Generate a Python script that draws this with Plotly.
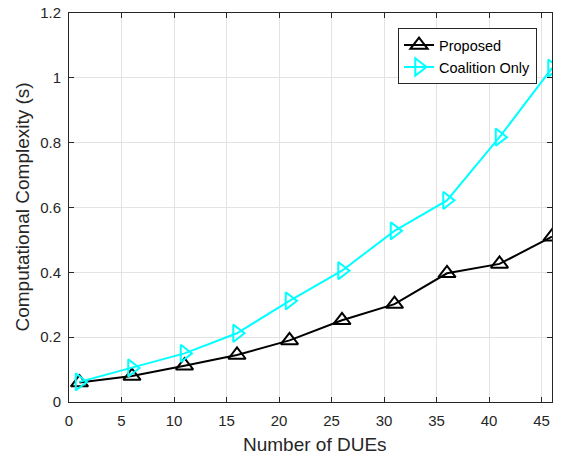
import plotly.graph_objects as go

# Number of DUEs on the x axis
num_dues = [1, 6, 11, 16, 21, 26, 31, 36, 41, 46]

# Running time in seconds for each scheme
proposed = [0.060, 0.080, 0.112, 0.145, 0.190, 0.252, 0.302, 0.397, 0.426, 0.510]
coalition_only = [0.062, 0.105, 0.150, 0.212, 0.312, 0.405, 0.528, 0.622, 0.817, 1.030]

x_ticks = [0, 5, 10, 15, 20, 25, 30, 35, 40, 45]
y_ticks = [0, 0.2, 0.4, 0.6, 0.8, 1.0, 1.2]
y_tick_text = ["0", "0.2", "0.4", "0.6", "0.8", "1", "1.2"]

FONT = "Liberation Sans"
TEXT_COLOR = "#262626"

fig = go.Figure()
fig.add_trace(go.Scatter(
    x=num_dues, y=proposed, name="Proposed", mode="lines+markers",
    line=dict(color="black", width=2),
    marker=dict(symbol="triangle-up-open", size=15, color="black",
                line=dict(width=2, color="black")),
))
fig.add_trace(go.Scatter(
    x=num_dues, y=coalition_only, name="Coalition Only", mode="lines+markers",
    line=dict(color="#00FFFF", width=2),
    marker=dict(symbol="triangle-right-open", size=15, color="#00FFFF",
                line=dict(width=2, color="#00FFFF")),
))

axis_common = dict(
    showline=True, linecolor=TEXT_COLOR, linewidth=1, mirror="allticks",
    ticks="inside", ticklen=5, tickcolor=TEXT_COLOR,
    showgrid=True, gridcolor="#e3e3e3", gridwidth=1,
    zeroline=False, automargin=False,
    tickfont=dict(family=FONT, size=15, color=TEXT_COLOR),
)

fig.update_xaxes(range=[0, 46], tickvals=x_ticks, ticklabelstandoff=5, **axis_common)
fig.update_yaxes(range=[0, 1.2], tickvals=y_ticks, ticktext=y_tick_text,
                 ticklabelstandoff=4, **axis_common)

# Axis titles
fig.add_annotation(
    text="Number of DUEs", xref="paper", yref="paper", x=0.5, y=0,
    xshift=4, yshift=-42, xanchor="center", yanchor="middle", showarrow=False,
    font=dict(family=FONT, size=19, color=TEXT_COLOR),
)
fig.add_annotation(
    text="Computational Complexity (s)", xref="paper", yref="paper", x=0, y=0.5,
    xshift=-47, xanchor="center", yanchor="middle", textangle=-90, showarrow=False,
    font=dict(family=FONT, size=19, color=TEXT_COLOR),
)

fig.update_layout(
    width=566, height=456,
    margin=dict(l=69, r=14, t=13, b=54),
    plot_bgcolor="white", paper_bgcolor="white",
    legend=dict(
        x=0.969, y=0.961, xanchor="right", yanchor="top",
        bgcolor="white", bordercolor=TEXT_COLOR, borderwidth=1,
        font=dict(family=FONT, size=14.5, color="black"),
        tracegroupgap=0, itemwidth=30,
    ),
    showlegend=True,
)

fig.write_html("out.html")
